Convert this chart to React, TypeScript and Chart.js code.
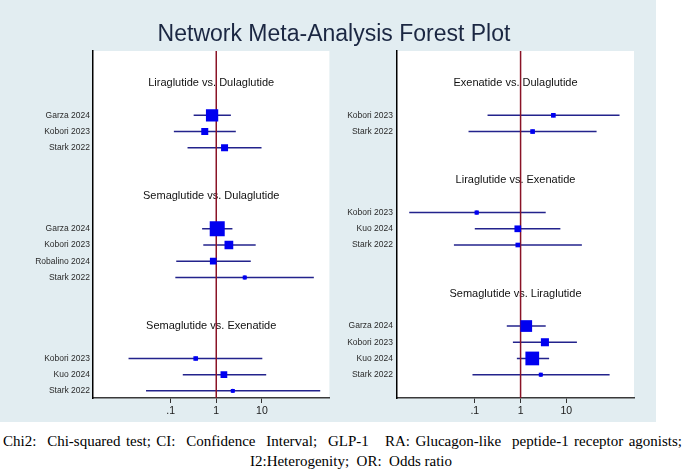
import React, { useEffect, useRef } from "react";
import { Chart, registerables } from "chart.js";

Chart.register(...registerables);

// ---- Left panel: comparisons and study estimates (odds ratios with 95% CI) ----
const leftComparisons = [
  "Liraglutide vs. Dulaglutide",
  "Semaglutide vs. Dulaglutide",
  "Semaglutide vs. Exenatide",
];
const leftGroupOf = [0, 0, 0, 1, 1, 1, 1, 2, 2, 2];
const leftStudies = [
  "Garza 2024", "Kobori 2023", "Stark 2022",
  "Garza 2024", "Kobori 2023", "Robalino 2024", "Stark 2022",
  "Kobori 2023", "Kuo 2024", "Stark 2022",
];
const leftOR = [0.81, 0.56, 1.52, 1.05, 1.89, 0.86, 4.2, 0.355, 1.47, 2.3];
const leftLower = [0.32, 0.118, 0.235, 0.49, 0.52, 0.133, 0.127, 0.012, 0.185, 0.029];
const leftUpper = [2.09, 2.68, 9.8, 2.26, 7.3, 5.7, 137, 10.2, 12.4, 189];
const leftWeights = [77, 25, 25, 115, 39, 23, 8, 11, 23, 8];

// ---- Right panel ----
const rightComparisons = [
  "Exenatide vs. Dulaglutide",
  "Liraglutide vs. Exenatide",
  "Semaglutide vs. Liraglutide",
];
const rightGroupOf = [0, 0, 1, 1, 1, 2, 2, 2, 2];
const rightStudies = [
  "Kobori 2023", "Stark 2022",
  "Kobori 2023", "Kuo 2024", "Stark 2022",
  "Garza 2024", "Kobori 2023", "Kuo 2024", "Stark 2022",
];
const rightOR = [5.2, 1.83, 0.11, 0.87, 0.87, 1.33, 3.4, 1.8, 2.76];
const rightLower = [0.19, 0.073, 0.0037, 0.1, 0.035, 0.5, 0.68, 0.83, 0.089];
const rightUpper = [145, 45.7, 3.54, 7.4, 21.8, 3.54, 17, 4.2, 88];
const rightWeights = [11, 11, 9, 23, 11, 70, 33, 96, 8];

// ---- Axis ----
const xTicks = [0.1, 1, 10];
const xTickLabels = [".1", "1", "10"];
const X_MIN = 0.002;
const X_MAX = 300;
const NULL_EFFECT = 1;

const FONT = "'Liberation Sans', Arial, Helvetica, sans-serif";
const SERIF = "'Liberation Serif', 'Times New Roman', serif";
const BG = "#e2edf1";
const CI_COLOR = "#23238c";
const BOX_COLOR = "#0000f0";
const NULL_COLOR = "#8a1326";

// Row layout: comparison heading, one blank row, study rows, two blank rows, next heading
function layoutRows(groupOf: number[], nGroups: number) {
  const titleRows: number[] = [];
  const studyRows: number[] = [];
  let row = 0;
  for (let g = 0; g < nGroups; g++) {
    titleRows.push(row);
    row += 2;
    groupOf.forEach((gi, i) => {
      if (gi === g) {
        studyRows[i] = row;
        row += 1;
      }
    });
    row += 2;
  }
  return { titleRows, studyRows };
}

const Y_MIN = -1.97;
const Y_MAX = 19.44;

type PanelProps = {
  comparisons: string[];
  groupOf: number[];
  studies: string[];
  or: number[];
  lower: number[];
  upper: number[];
  weights: number[];
  left: number;
  width: number;
  height: number;
  yAxisWidth: number;
  padRight: number;
  labelPad: number;
};

function ForestPanel(p: PanelProps) {
  const ref = useRef<HTMLCanvasElement>(null);

  useEffect(() => {
    if (!ref.current) return;
    const { titleRows, studyRows } = layoutRows(p.groupOf, p.comparisons.length);

    const datasets: any[] = [];
    // confidence interval whiskers
    p.studies.forEach((_, i) => {
      datasets.push({
        data: [
          { x: p.lower[i], y: studyRows[i] },
          { x: p.upper[i], y: studyRows[i] },
        ],
        showLine: true,
        borderColor: CI_COLOR,
        borderWidth: 1.5,
        pointRadius: 0,
        order: 3,
      });
    });
    // line of no effect
    datasets.push({
      data: [
        { x: NULL_EFFECT, y: Y_MIN },
        { x: NULL_EFFECT, y: Y_MAX },
      ],
      showLine: true,
      borderColor: NULL_COLOR,
      borderWidth: 1.5,
      pointRadius: 0,
      order: 2,
    });
    // weight boxes
    datasets.push({
      data: p.or.map((v, i) => ({ x: v, y: studyRows[i] })),
      pointStyle: "rect",
      pointRadius: p.weights.map((w) => (1.4 * Math.sqrt(w)) / Math.SQRT2),
      backgroundColor: BOX_COLOR,
      borderWidth: 0,
      order: 1,
    });
    // point-estimate dots
    datasets.push({
      data: p.or.map((v, i) => ({ x: v, y: studyRows[i] })),
      pointStyle: "circle",
      pointRadius: 2,
      backgroundColor: BOX_COLOR,
      borderWidth: 0,
      order: 0,
    });

    const panelPlugin = {
      id: "panelDecor",
      beforeDraw(chart: any) {
        const a = chart.chartArea;
        const ctx = chart.ctx;
        ctx.save();
        ctx.fillStyle = "#ffffff";
        ctx.fillRect(a.left, a.top, a.right - a.left, a.bottom - a.top);
        ctx.restore();
      },
      beforeDatasetsDraw(chart: any) {
        const a = chart.chartArea;
        const ctx = chart.ctx;
        const ys = chart.scales.y;
        ctx.save();
        ctx.fillStyle = "#111111";
        ctx.font = `11px ${FONT}`;
        ctx.textAlign = "center";
        ctx.textBaseline = "middle";
        p.comparisons.forEach((c, g) => {
          ctx.fillText(c, (a.left + a.right) / 2, ys.getPixelForValue(titleRows[g]));
        });
        ctx.restore();
      },
    };

    const chart = new Chart(ref.current, {
      type: "scatter",
      data: { datasets },
      options: {
        animation: false,
        responsive: false,
        devicePixelRatio: 1,
        layout: { padding: { top: 51, right: p.padRight, left: 0, bottom: 0 } },
        plugins: { legend: { display: false }, tooltip: { enabled: false } },
        scales: {
          x: {
            type: "logarithmic",
            min: X_MIN,
            max: X_MAX,
            bounds: "data",
            afterBuildTicks: (s: any) => {
              s.ticks = xTicks.map((v) => ({ value: v }));
            },
            afterFit: (s: any) => {
              s.height = 22;
            },
            ticks: {
              callback: (_v: any, i: number) => xTickLabels[i],
              font: { family: FONT, size: 10.5 },
              color: "#1a1a1a",
              padding: 2,
              maxRotation: 0,
              autoSkip: false,
            },
            grid: {
              drawOnChartArea: false,
              drawTicks: true,
              tickLength: 5,
              color: "#333333",
              lineWidth: 1,
            },
            border: { display: true, color: "#3a3a3a", width: 1.5 },
          },
          y: {
            type: "linear",
            reverse: true,
            min: Y_MIN,
            max: Y_MAX,
            bounds: "data",
            afterBuildTicks: (s: any) => {
              s.ticks = studyRows.map((v) => ({ value: v }));
            },
            afterFit: (s: any) => {
              s.width = p.yAxisWidth;
            },
            ticks: {
              callback: (_v: any, i: number) => p.studies[i],
              font: { family: FONT, size: 8.5 },
              color: "#2a2a2a",
              padding: p.labelPad,
              autoSkip: false,
            },
            grid: { drawOnChartArea: false, drawTicks: false },
            border: { display: true, color: "#000000", width: 1.5 },
          },
        },
      },
      plugins: [panelPlugin],
    } as any);

    return () => chart.destroy();
  }, []);

  return (
    <canvas
      ref={ref}
      width={p.width}
      height={p.height}
      style={{ position: "absolute", left: p.left, top: 0, width: p.width, height: p.height }}
    />
  );
}

export default function App() {
  return (
    <div
      style={{
        position: "absolute",
        left: 0,
        top: 0,
        width: 685,
        height: 471,
        background: "#ffffff",
        overflow: "hidden",
      }}
    >
      <div style={{ position: "absolute", left: 0, top: 0, width: 656, height: 422, background: BG }} />
      <ForestPanel
        comparisons={leftComparisons}
        groupOf={leftGroupOf}
        studies={leftStudies}
        or={leftOR}
        lower={leftLower}
        upper={leftUpper}
        weights={leftWeights}
        left={0}
        width={340}
        height={420}
        yAxisWidth={93}
        padRight={9}
        labelPad={3}
      />
      <ForestPanel
        comparisons={rightComparisons}
        groupOf={rightGroupOf}
        studies={rightStudies}
        or={rightOR}
        lower={rightLower}
        upper={rightUpper}
        weights={rightWeights}
        left={340}
        width={316}
        height={420}
        yAxisWidth={57}
        padRight={22}
        labelPad={4}
      />
      <div
        style={{
          position: "absolute",
          left: 0,
          top: 19,
          width: 668,
          textAlign: "center",
          fontFamily: FONT,
          fontSize: 23,
          lineHeight: "29px",
          color: "#1b2742",
        }}
      >
        Network Meta-Analysis Forest Plot
      </div>
      <div
        style={{
          position: "absolute",
          left: 3,
          top: 431,
          width: 679,
          fontFamily: SERIF,
          fontSize: 15,
          lineHeight: "20px",
          color: "#000",
          textAlign: "justify",
          textAlignLast: "justify",
          whiteSpace: "nowrap",
        }}
      >
        Chi2:&nbsp; Chi-squared test; CI:&nbsp; Confidence&nbsp; Interval;&nbsp; GLP-1&nbsp;&nbsp; RA: Glucagon-like&nbsp; peptide-1 receptor agonists;
      </div>
      <div
        style={{
          position: "absolute",
          left: 0,
          top: 451,
          width: 702,
          textAlign: "center",
          fontFamily: SERIF,
          fontSize: 15,
          lineHeight: "20px",
          color: "#000",
        }}
      >
        I2:Heterogenity;&nbsp; OR:&nbsp; Odds ratio
      </div>
    </div>
  );
}
